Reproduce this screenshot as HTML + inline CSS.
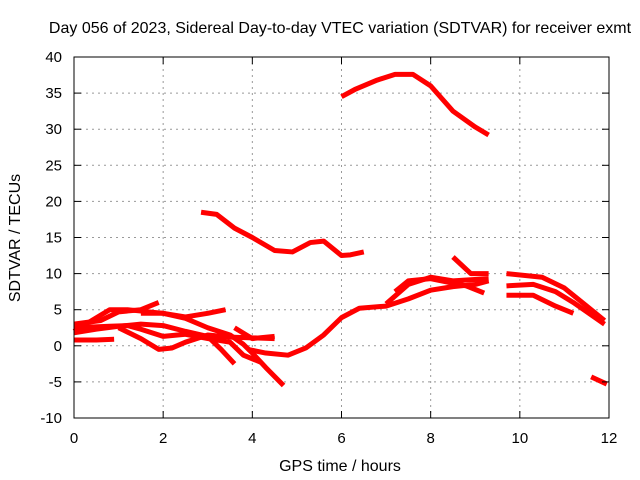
<!DOCTYPE html>
<html><head><meta charset="utf-8"><style>
body{margin:0;background:#fff}
svg{display:block;font-family:"Liberation Sans",sans-serif}
</style></head><body>
<svg id="c" width="640" height="480">
<text x="340" y="33" text-anchor="middle" font-size="16">Day 056 of 2023, Sidereal Day-to-day VTEC variation (SDTVAR) for receiver exmt</text>
<text x="340" y="471" text-anchor="middle" font-size="16">GPS time / hours</text>
<text transform="translate(20,238) rotate(-90)" text-anchor="middle" font-size="16">SDTVAR / TECUs</text>
<g id="grid"></g><g id="series"></g>
<rect x="74" y="57" width="535" height="361" fill="none" stroke="#000" stroke-width="1"/>
<g id="ticks"></g>
</svg>
<script>
const xTicks=[0,2,4,6,8,10,12];
const yTicks=[-10,-5,0,5,10,15,20,25,30,35,40];
const s1=[[6.0,34.5],[6.3,35.5],[6.8,36.8],[7.2,37.6],[7.6,37.6],[8.0,36],[8.5,32.5],[9.0,30.3],[9.3,29.2]];
const s2=[[2.85,18.5],[3.2,18.2],[3.6,16.3],[4.0,15],[4.5,13.2],[4.9,13],[5.3,14.3],[5.6,14.5],[6.0,12.5],[6.2,12.6],[6.5,13]];
const s3=[[3.9,-0.5],[4.3,-1],[4.8,-1.3],[5.2,-0.3],[5.6,1.5],[6.0,3.9],[6.4,5.2],[7.0,5.5],[7.5,6.5],[8.0,7.7],[8.5,8.2],[9.0,8.5],[9.3,9]];
const s4=[[7.0,5.8],[7.5,8.5],[8.0,9.5],[8.5,9],[9.3,9.3]];
const s5=[[7.2,7.5],[7.5,9],[8.0,9.3],[8.8,8.3],[9.2,7.3]];
const s6=[[8.5,12.3],[8.9,10],[9.3,10]];
const s7=[[9.7,10],[10.5,9.5],[11.0,8],[11.5,5.5],[11.9,3.5]];
const s8=[[9.7,8.3],[10.3,8.5],[10.8,7.5],[11.2,6],[11.9,3]];
const s9=[[9.7,7],[10.3,7],[10.8,5.5],[11.2,4.5]];
const s10=[[11.6,-4.3],[11.95,-5.3]];
const sA=[[0,0.8],[0.5,0.8],[0.9,0.9]];
const sB=[[0,2],[0.4,3.5],[0.8,5],[1.2,5],[2.0,4.5],[2.5,3.8],[3.0,2.5],[3.5,1.5],[3.8,0.2],[4.0,-1],[4.3,-3],[4.7,-5.5]];
const sC=[[0,3],[0.6,3.5],[1.0,4.7],[1.5,5],[1.9,6]];
const sD=[[0,2.5],[0.8,2.7],[1.2,2.8],[1.5,2.3],[2.0,1.3],[2.5,1.6],[3.0,1],[3.5,0.5],[3.8,-1.3],[4.2,-2.3]];
const sE=[[1.0,2.5],[1.5,1],[1.9,-0.5],[2.2,-0.3],[2.5,0.5],[3.0,1.5],[3.5,1.2],[4.0,1.1],[4.5,1.0]];
const sF=[[0,1.8],[0.5,2.3],[1.0,2.7],[1.5,3],[2.0,2.8],[2.5,2],[3.0,1.3],[3.3,-0.5],[3.6,-2.5]];
const sG=[[1.5,4.5],[2.0,4.5],[2.5,4],[3.0,4.5],[3.4,5]];
const sH=[[3.6,2.5],[4.0,1],[4.5,1.3]];
const allSeries=[s1,s2,s3,s4,s5,s6,s7,s8,s9,s10,sA,sB,sC,sD,sE,sF,sG,sH];
const X=h=>74+h*535/12, Y=v=>418-(v+10)*361/50;
const NS="http://www.w3.org/2000/svg";
const grid=document.getElementById('grid'),ticks=document.getElementById('ticks'),ser=document.getElementById('series');
function mk(t,a,p){const e=document.createElementNS(NS,t);for(const k in a)e.setAttribute(k,a[k]);p.appendChild(e);return e;}
xTicks.forEach(t=>{const x=X(t);
 if(t>0&&t<12){const l=mk('line',{x1:x,x2:x,y1:57,y2:418,stroke:'#999','stroke-dasharray':'2,4'},grid);
 
 }
 mk('line',{x1:x,x2:x,y1:418,y2:411,stroke:'#000'},ticks);mk('line',{x1:x,x2:x,y1:57,y2:64,stroke:'#000'},ticks);
 const tx=mk('text',{x:x,y:443,'text-anchor':'middle','font-size':15},ticks);tx.textContent=t;
 
 });
yTicks.forEach(t=>{const y=Y(t);
 if(t>-10&&t<40){const l=mk('line',{x1:74,x2:609,y1:y,y2:y,stroke:'#999','stroke-dasharray':'2,4'},grid);
 
 }
 mk('line',{x1:74,x2:81,y1:y,y2:y,stroke:'#000'},ticks);mk('line',{x1:602,x2:609,y1:y,y2:y,stroke:'#000'},ticks);
 const tx=mk('text',{x:62,y:y+5,'text-anchor':'end','font-size':15},ticks);tx.textContent=t;
 
 });
allSeries.forEach(s=>{const p=mk('polyline',{points:s.map(d=>X(d[0])+','+Y(d[1])).join(' '),fill:'none',stroke:'#f00','stroke-width':5,'stroke-linejoin':'round'},ser);
 
 });
</script>
</body></html>
